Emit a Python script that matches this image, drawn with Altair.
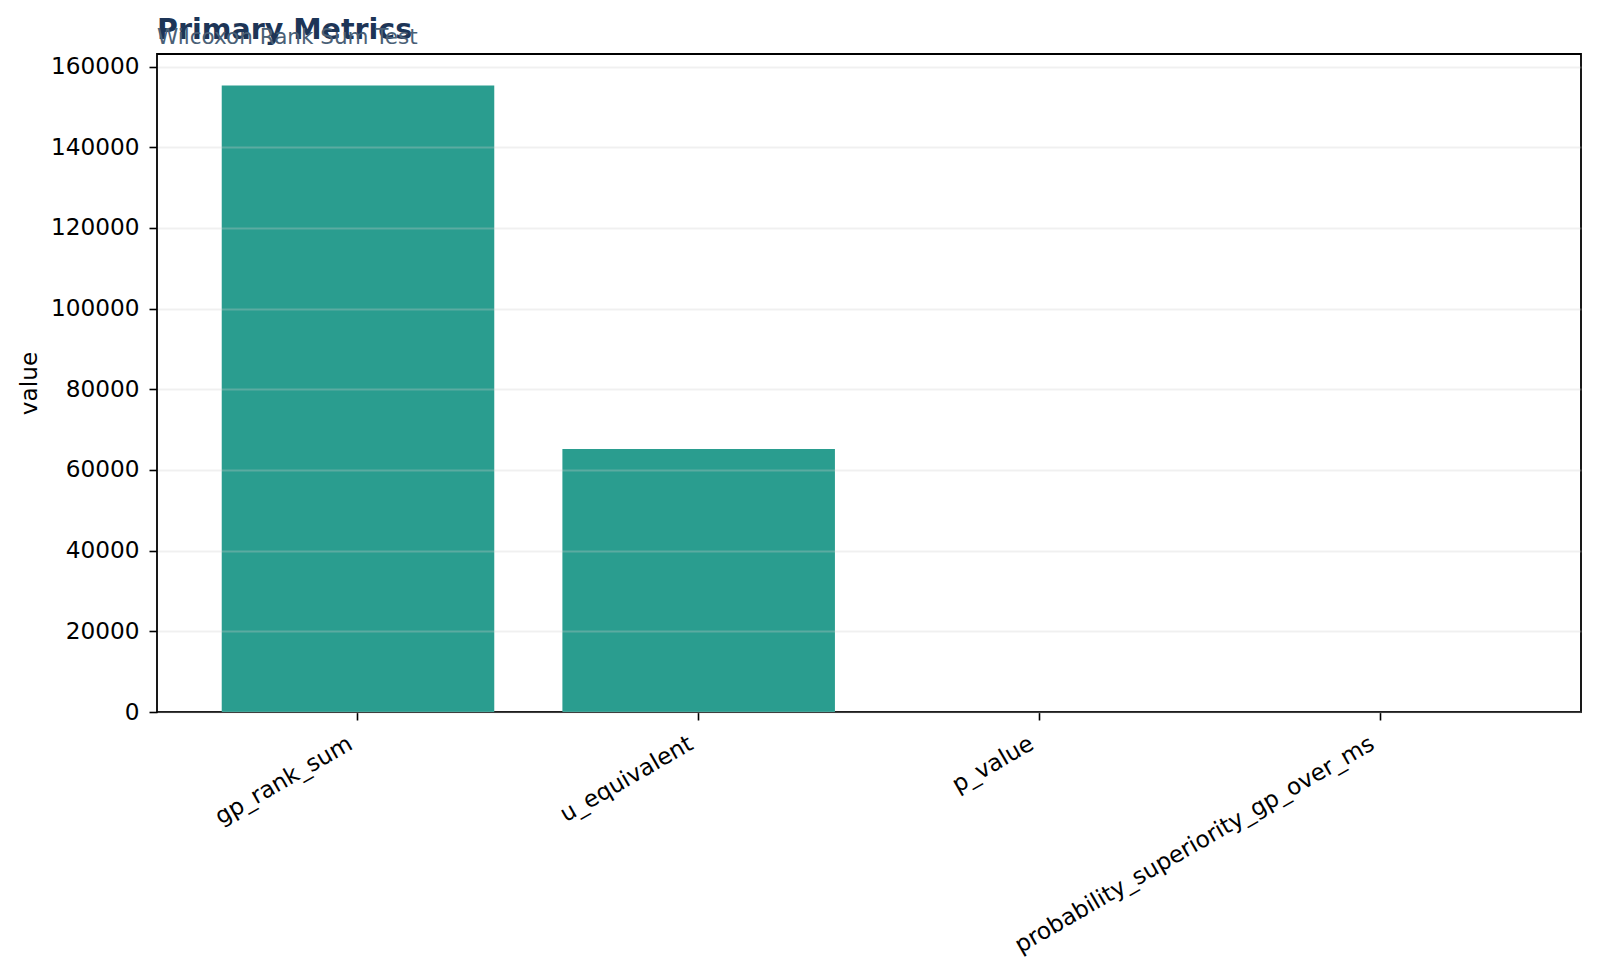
import altair as alt
import pandas as pd

metrics = ["gp_rank_sum", "u_equivalent", "p_value", "probability_superiority_gp_over_ms"]
values = [155300, 65200, 0.0001, 0.36]

df = pd.DataFrame({"metric": metrics, "value": values})

FONT = "DejaVu Sans"
FS = 23.2

bars = alt.Chart(df).mark_bar(color="#2a9d8f").encode(
    x=alt.X(
        "metric:N",
        sort=metrics,
        scale=alt.Scale(paddingInner=0.2, paddingOuter=0.19),
        axis=alt.Axis(
            title=None,
            labelAngle=-30,
            labelAlign="right",
            labelBaseline="top",
            labelFont=FONT,
            labelFontSize=FS,
            labelColor="black",
            labelPadding=12,
            labelOffset=-13,
            labelLimit=0,
            tickSize=8,
            tickWidth=1.6,
            tickColor="black",
            domain=False,
            grid=False,
        ),
    ),
    y=alt.Y(
        "value:Q",
        scale=alt.Scale(domain=[0, 163100], nice=False, zero=True),
        axis=alt.Axis(
            title="value",
            titleFont=FONT,
            titleFontSize=FS,
            titleFontWeight="normal",
            titleColor="black",
            titlePadding=9,
            values=[0, 20000, 40000, 60000, 80000, 100000, 120000, 140000, 160000],
            format="d",
            labelFont=FONT,
            labelFontSize=FS,
            labelColor="black",
            labelPadding=10,
            tickSize=8,
            tickWidth=1.6,
            tickColor="black",
            domain=False,
            grid=True,
            gridColor="#cccccc",
            gridOpacity=0.3,
            gridWidth=1.8,
            zindex=1,
        ),
    ),
)

chart = bars.properties(
    width=1424,
    height=658,
    padding={"left": 9, "top": 8, "right": 5, "bottom": 5},
    title=alt.TitleParams(
        text="Primary Metrics",
        subtitle="Wilcoxon Rank Sum Test",
        anchor="start",
        frame="group",
        font=FONT,
        fontSize=28.5,
        fontWeight="bold",
        color="#1d3557",
        subtitleFont=FONT,
        subtitleFontSize=21.5,
        subtitleColor="#4a6076",
        subtitlePadding=-18,
        offset=6,
    ),
).configure(background="white").configure_view(
    stroke="black",
    strokeWidth=1.8,
)

chart.save("out.html", embed_options={"renderer": "svg", "actions": False})
